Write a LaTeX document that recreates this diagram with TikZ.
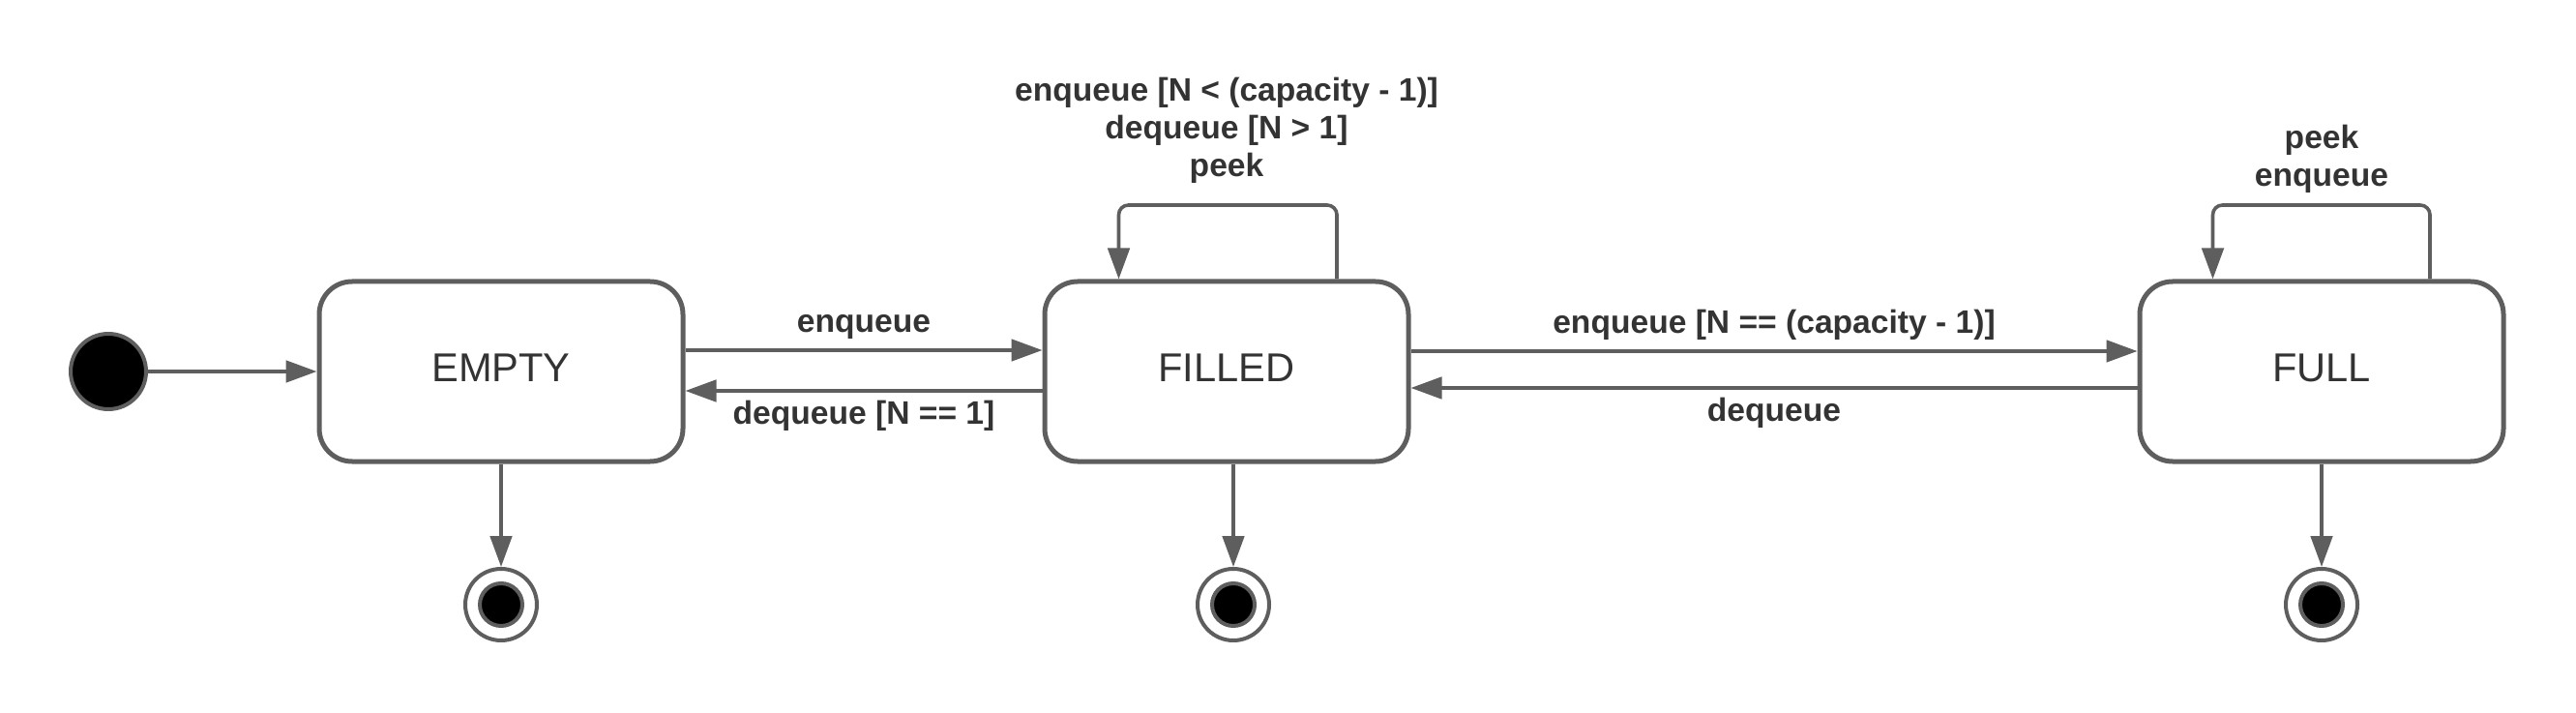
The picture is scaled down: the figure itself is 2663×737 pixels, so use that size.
\documentclass[tikz,border=0pt]{standalone}
\usepackage{fontspec}
\setmainfont{Liberation Sans}
\usetikzlibrary{arrows.meta,calc}
\definecolor{strk}{HTML}{5E5E5E}
\definecolor{txt}{HTML}{333333}
\newcommand{\stname}[1]{\raisebox{1.7pt}{#1}}
\tikzset{
  statebox/.style={draw=strk,line width=1.25pt,rounded corners=8.5pt,minimum width=94pt,minimum height=46.5pt,inner sep=0pt,font=\fontsize{10.4}{12}\selectfont,text=txt},
  initst/.style={circle,draw=strk,fill=black,line width=1pt,minimum size=19.5pt,inner sep=0pt},
  finout/.style={circle,draw=strk,fill=white,line width=1pt,minimum size=18.5pt,inner sep=0pt},
  finin/.style={circle,draw=strk,fill=black,line width=1pt,minimum size=11pt,inner sep=0pt},
  conn/.style={draw=strk,line width=0.9pt,-{Triangle[length=8pt,width=5.6pt]}},
  lbl/.style={font=\bfseries\fontsize{8.4}{9.8}\selectfont,text=txt,align=center,inner sep=0pt}
}
\begin{document}
\begin{tikzpicture}[x=0.25pt,y=-0.25pt]
\useasboundingbox (0,0) rectangle (2663,737);
\node[initst] (init) at (112,384) {};
\node[statebox] (empty) at (518,384) {\stname{EMPTY}};
\node[statebox] (filled) at (1268,384) {\stname{FILLED}};
\node[statebox] (full) at (2400,384) {\stname{FULL}};
\node[finout] (f1) at (518,625) {};
\node[finin] (f1i) at (f1) {};
\node[finout] (f2) at (1275,625) {};
\node[finin] (f2i) at (f2) {};
\node[finout] (f3) at (2400,625) {};
\node[finin] (f3i) at (f3) {};
% initial
\draw[conn] (init) -- (empty);
% empty <-> filled
\draw[conn] ([yshift=5.5pt]empty.east) -- ([yshift=5.5pt]filled.west) node[lbl,midway,above=2.4pt] (l1) {enqueue};
\draw[conn] ([yshift=-5pt]filled.west) -- ([yshift=-5pt]empty.east) node[lbl,midway,below=2.1pt] (l2) {dequeue [N == 1]};
% filled <-> full
\draw[conn] ([yshift=5.25pt]filled.east) -- ([yshift=5.25pt]full.west) node[lbl,midway,above=2.4pt] (l3) {enqueue [N == (capacity - 1)]};
\draw[conn] ([yshift=-4.25pt]full.west) -- ([yshift=-4.25pt]filled.east) node[lbl,midway,below=2.1pt] (l4) {dequeue};
% self loops
\draw[conn,rounded corners=2.5pt] ($(filled.north)+(114,0)$) |- (1220,212) -| ($(filled.north)+(-111.5,0)$);
\node[lbl] (l5) at (1268,135) {enqueue [N < (capacity - 1)]\\dequeue [N > 1]\\peek};
\draw[conn,rounded corners=2.5pt] ($(full.north)+(112,0)$) |- (2340,212) -| ($(full.north)+(-112.5,0)$);
\node[lbl] (l6) at (2400,164) {peek\\enqueue};
% to finals
\draw[conn] (empty.south) -- (f1.north);
\draw[conn] (filled.south -| f2) -- (f2.north);
\draw[conn] (full.south) -- (f3.north);
\end{tikzpicture}
\end{document}
